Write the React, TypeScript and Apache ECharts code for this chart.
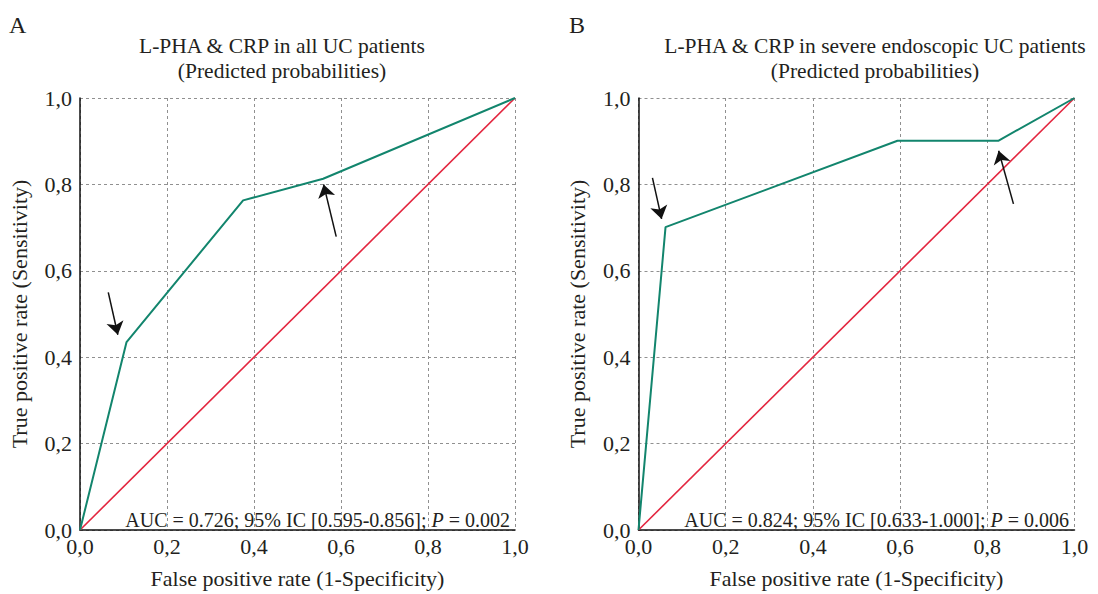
import React, { useEffect, useRef } from "react";
import * as echarts from "echarts";

const ticks = [0, 0.2, 0.4, 0.6, 0.8, 1.0];
const rocA: [number, number][] = [[0, 0], [0.107, 0.435], [0.375, 0.763], [0.559, 0.813], [1, 1]];
const rocB: [number, number][] = [[0, 0], [0.062, 0.701], [0.594, 0.901], [0.825, 0.901], [1, 1]];
const diagonal: [number, number][] = [[0, 0], [1, 1]];
const arrowsA: [number, number][][] = [
  [[0.065, 0.55], [0.087, 0.452]],
  [[0.589, 0.679], [0.56, 0.8]],
];
const arrowsB: [number, number][][] = [
  [[0.032, 0.815], [0.053, 0.72]],
  [[0.86, 0.755], [0.826, 0.878]],
];
const titleA = ["L-PHA & CRP in all UC patients", "(Predicted probabilities)"];
const titleB = ["L-PHA & CRP in severe endoscopic UC patients", "(Predicted probabilities)"];
const aucA = ["AUC = 0.726; 95% IC [0.595-0.856]; ", "P", " = 0.002"];
const aucB = ["AUC = 0.824; 95% IC [0.633-1.000]; ", "P", " = 0.006"];
const xName = "False positive rate (1-Specificity)";
const yName = "True positive rate (Sensitivity)";

const FONT = "'Liberation Serif', 'DejaVu Serif', serif";
const TXT = "#231f20";
const GREEN = "#12856d";
const RED = "#e3263f";

export default function App() {
  const ref = useRef<HTMLDivElement>(null);
  useEffect(() => {
    document.body.style.margin = "0";
    const chart = echarts.init(ref.current!, null, { renderer: "svg" });
    const fmt = (v: number) => v.toFixed(1).replace(".", ",");
    const mkX = (gi: number) => ({
      type: "value",
      gridIndex: gi,
      min: 0,
      max: 1,
      interval: 0.2,
      name: xName,
      nameLocation: "middle",
      nameGap: 37,
      nameTextStyle: { fontFamily: FONT, fontSize: 22, color: TXT },
      axisLine: { show: true, lineStyle: { color: "#111", width: 1.5 } },
      axisTick: { show: false },
      axisLabel: { formatter: fmt, fontFamily: FONT, fontSize: 22, color: TXT, margin: 5 },
      splitLine: { show: true, lineStyle: { color: "#909090", type: [3, 3], width: 1 } },
    });
    const mkY = (gi: number) => ({
      type: "value",
      gridIndex: gi,
      min: 0,
      max: 1,
      interval: 0.2,
      name: yName,
      nameLocation: "middle",
      nameGap: 50,
      nameTextStyle: { fontFamily: FONT, fontSize: 22, color: TXT },
      axisLine: { show: true, lineStyle: { color: "#111", width: 1.5 } },
      axisTick: { show: false },
      axisLabel: { formatter: fmt, fontFamily: FONT, fontSize: 22, color: TXT, margin: 8 },
      splitLine: { show: true, lineStyle: { color: "#909090", type: [3, 3], width: 1 } },
    });
    const arrowMark = (arrows: [number, number][][]) => ({
      silent: true,
      symbol: ["none", "arrow"],
      symbolSize: 13,
      label: { show: false },
      lineStyle: { color: "#111", width: 1.5, type: "solid" },
      data: arrows.map((a) => [{ coord: a[0] }, { coord: a[1] }]),
    });
    const rocSeries = (gi: number, data: [number, number][], arrows: [number, number][][]) => [
      {
        type: "line",
        xAxisIndex: gi,
        yAxisIndex: gi,
        data: diagonal,
        showSymbol: false,
        lineStyle: { color: RED, width: 1.6 },
        z: 2,
      },
      {
        type: "line",
        xAxisIndex: gi,
        yAxisIndex: gi,
        data,
        showSymbol: false,
        lineStyle: { color: GREEN, width: 2 },
        z: 3,
        markLine: arrowMark(arrows),
      },
    ];
    const titleText = (lines: string[], x: number) =>
      lines.map((t, i) => ({
        type: "text",
        x,
        y: 46 + i * 25,
        style: { text: t, font: `21.5px ${FONT}`, fill: TXT, align: "center", verticalAlign: "middle" },
      }));
    const aucText = (parts: string[], x: number) => ({
      type: "text",
      x,
      y: 520,
      z: 10,
      style: {
        text: `{n|${parts[0]}}{i|${parts[1]}}{n|${parts[2]}}`,
        align: "right",
        verticalAlign: "middle",
        fill: TXT,
        rich: {
          n: { fontFamily: FONT, fontSize: 20, fill: TXT },
          i: { fontFamily: FONT, fontSize: 20, fontStyle: "italic", fill: TXT },
        },
      },
    });
    chart.setOption({
      animation: false,
      grid: [
        { left: 80, top: 98, width: 435, height: 434 },
        { left: 638.5, top: 98, width: 436, height: 434 },
      ],
      xAxis: [mkX(0), mkX(1)],
      yAxis: [mkY(0), mkY(1)],
      series: [...rocSeries(0, rocA, arrowsA), ...rocSeries(1, rocB, arrowsB)],
      graphic: [
        { type: "text", x: 9, y: 25, style: { text: "A", font: `24px ${FONT}`, fill: TXT, verticalAlign: "middle" } },
        { type: "text", x: 569, y: 25, style: { text: "B", font: `24px ${FONT}`, fill: TXT, verticalAlign: "middle" } },
        ...titleText(titleA, 282),
        ...titleText(titleB, 875),
        aucText(aucA, 510),
        aucText(aucB, 1069),
      ],
    });
    return () => chart.dispose();
  }, []);
  return <div ref={ref} style={{ position: "absolute", left: 0, top: 0, width: 1098, height: 594 }} />;
}
